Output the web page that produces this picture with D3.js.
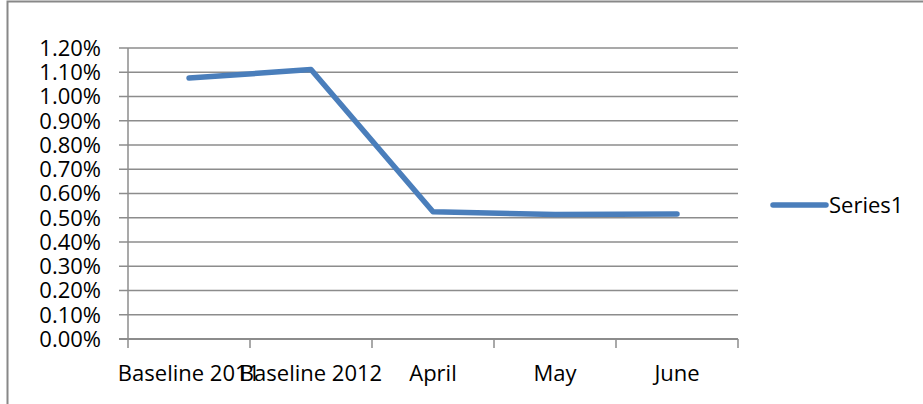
<!DOCTYPE html>
<html>
<head>
<meta charset="utf-8">
<script src="https://cdn.jsdelivr.net/npm/d3@7"></script>
<style>
  body { margin: 0; background: #fff; }
  svg { display: block; font-family: "Open Sans", "Noto Sans", sans-serif; }
</style>
</head>
<body>
<div id="chart"></div>
<script>
'use strict';

var categories = ['Baseline 2011', 'Baseline 2012', 'April', 'May', 'June'];
var series1 = [0.01076, 0.01111, 0.00525, 0.00513, 0.00515];
var yTicks = [0, 0.001, 0.002, 0.003, 0.004, 0.005, 0.006, 0.007, 0.008, 0.009, 0.010, 0.011, 0.012];
var seriesName = 'Series1';

var width = 923, height = 404;
var margin = {top: 48, right: 185, bottom: 65, left: 128};
var fontSize = 22;

var svg = d3.select('#chart').append('svg')
    .attr('width', width)
    .attr('height', height);

// chart border (only top and left show in the frame)
svg.append('rect')
    .attr('x', 7.5).attr('y', 1.5)
    .attr('width', 930).attr('height', 420)
    .attr('fill', 'none')
    .attr('stroke', '#888')
    .attr('stroke-width', 2);

var x = d3.scaleBand()
    .domain(categories)
    .range([margin.left, width - margin.right]);

var y = d3.scaleLinear()
    .domain([0, 0.012])
    .range([height - margin.bottom, margin.top]);

// gridlines
svg.append('g')
    .selectAll('line')
    .data(yTicks)
    .enter().append('line')
    .attr('x1', margin.left - 9)
    .attr('x2', width - margin.right)
    .attr('y1', function (d) { return y(d); })
    .attr('y2', function (d) { return y(d); })
    .attr('stroke', '#8c8c8c')
    .attr('stroke-width', 1.5);

// y labels
svg.append('g')
    .selectAll('text')
    .data(yTicks)
    .enter().append('text')
    .attr('x', 101)
    .attr('y', function (d) { return y(d); })
    .attr('dy', '0.36em')
    .attr('text-anchor', 'end')
    .attr('font-size', fontSize)
    .attr('fill', '#000')
    .text(function (d) { return d3.format('.2%')(d); });

// y axis line
svg.append('line')
    .attr('x1', margin.left).attr('x2', margin.left)
    .attr('y1', margin.top).attr('y2', y(0))
    .attr('stroke', '#8c8c8c')
    .attr('stroke-width', 1.5);

// x axis with ticks at category boundaries
var bounds = categories.map(function (c) { return x(c); }).concat([x.range()[1]]);
svg.append('line')
    .attr('x1', margin.left - 9).attr('x2', width - margin.right)
    .attr('y1', y(0)).attr('y2', y(0))
    .attr('stroke', '#8c8c8c')
    .attr('stroke-width', 2);
svg.append('g')
    .selectAll('line')
    .data(bounds)
    .enter().append('line')
    .attr('x1', function (d) { return d; })
    .attr('x2', function (d) { return d; })
    .attr('y1', y(0))
    .attr('y2', y(0) + 9)
    .attr('stroke', '#8c8c8c')
    .attr('stroke-width', 1.5);

svg.append('g')
    .selectAll('text')
    .data(categories)
    .enter().append('text')
    .attr('x', function (d) { return x(d) + x.bandwidth() / 2; })
    .attr('y', 381)
    .attr('text-anchor', 'middle')
    .attr('font-size', fontSize)
    .attr('fill', '#000')
    .text(function (d) { return d; });

// series line
var line = d3.line()
    .x(function (d, i) { return x(categories[i]) + x.bandwidth() / 2; })
    .y(function (d) { return y(d); });

svg.append('path')
    .datum(series1)
    .attr('d', line)
    .attr('fill', 'none')
    .attr('stroke', '#4a7ebb')
    .attr('stroke-width', 5.5)
    .attr('stroke-linecap', 'round')
    .attr('stroke-linejoin', 'round');

// legend
svg.append('line')
    .attr('x1', 773).attr('x2', 826)
    .attr('y1', 205).attr('y2', 205)
    .attr('stroke', '#4a7ebb')
    .attr('stroke-width', 5.5)
    .attr('stroke-linecap', 'round');
svg.append('text')
    .attr('x', 829)
    .attr('y', 205)
    .attr('dy', '0.36em')
    .attr('font-size', fontSize)
    .attr('fill', '#000')
    .text(seriesName);
</script>
</body>
</html>
